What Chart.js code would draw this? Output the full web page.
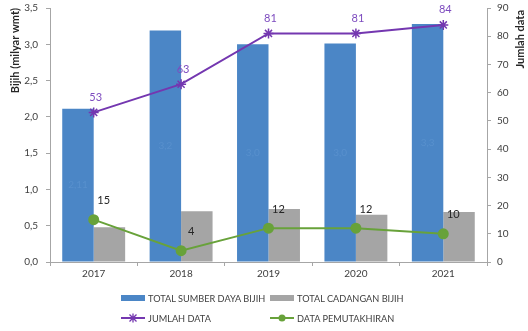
<!DOCTYPE html>
<html>
<head>
<meta charset="utf-8">
<script src="https://cdn.jsdelivr.net/npm/chart.js@4.4.1/dist/chart.umd.min.js"></script>
<style>
  html, body { margin: 0; padding: 0; background: #fff; }
  #wrap { position: relative; width: 528px; height: 331px; }
  #legend { position: absolute; left: 121px; top: 290px; display: grid;
    grid-template-columns: 149px auto; row-gap: 4px;
    font: 9.2px Lato, sans-serif; color: #404040; }
  .item { display: flex; align-items: center; height: 16px; white-space: nowrap; }
  .item svg { margin-right: 3px; }
</style>
</head>
<body>
<div id="wrap">
  <canvas id="chart" width="528" height="331"></canvas>
  <div id="legend"></div>
</div>
<script>
const categories = ['2017', '2018', '2019', '2020', '2021'];
const sumberDaya = [2.11, 3.19, 3.00, 3.01, 3.28];
const sumberDayaLabels = ['2,11', '3,2', '3,0', '3,0', '3,3'];
const cadangan = [0.48, 0.70, 0.73, 0.65, 0.69];
const jumlahData = [53, 63, 81, 81, 84];
const pemutakhiran = [15, 4, 12, 12, 10];
const leftTicks = [0, 0.5, 1, 1.5, 2, 2.5, 3, 3.5];
const rightTicks = [0, 10, 20, 30, 40, 50, 60, 70, 80, 90];

const BLUE = '#4b86c6';
const GREY = '#a5a5a5';
const PURPLE = '#7437b0';
const GREEN = '#68a23a';
const AXIS = '#a6a6a6';

// value labels + right axis title
const labelPlugin = {
    id: 'labels',
    afterDatasetsDraw(chart) {
        const ctx = chart.ctx;
        ctx.save();
        ctx.textAlign = 'center';
        ctx.textBaseline = 'middle';
        ctx.font = '10px Lato, sans-serif';

        chart.getDatasetMeta(0).data.forEach((bar, i) => {
            ctx.fillStyle = '#5890cd';
            ctx.fillText(sumberDayaLabels[i], bar.x, (bar.y + bar.base) / 2);
        });
        ctx.font = '11px Lato, sans-serif';
        chart.getDatasetMeta(2).data.forEach((pt, i) => {
            ctx.fillStyle = '#7d4bbf';
            ctx.fillText(jumlahData[i], pt.x + 2, pt.y - 15);
        });
        chart.getDatasetMeta(3).data.forEach((pt, i) => {
            ctx.fillStyle = '#262626';
            ctx.fillText(pemutakhiran[i], pt.x + 10, pt.y - 19);
        });

        const y1 = chart.scales.y1;
        ctx.translate(520, y1.top + 2);
        ctx.rotate(-Math.PI / 2);
        ctx.textAlign = 'right';
        ctx.font = 'bold 11px Lato, sans-serif';
        ctx.fillStyle = '#262626';
        ctx.fillText('Jumlah data', 0, 0);
        ctx.restore();
    }
};

const tickFmt = v => v.toFixed(1).replace('.', ',');

const fitVertical = w => s => {
    s.width = w;
    s.paddingTop = 0;
    s.paddingBottom = 0;
};

const chart = new Chart(document.getElementById('chart'), {
    data: {
        labels: categories,
        datasets: [
            { type: 'bar', label: 'TOTAL SUMBER DAYA BIJIH', data: sumberDaya,
              backgroundColor: BLUE, yAxisID: 'y', order: 2 },
            { type: 'bar', label: 'TOTAL CADANGAN BIJIH', data: cadangan,
              backgroundColor: GREY, yAxisID: 'y', order: 2 },
            { type: 'line', label: 'JUMLAH DATA', data: jumlahData, yAxisID: 'y1', order: 1,
              borderColor: PURPLE, borderWidth: 2, pointStyle: 'star', pointRadius: 5,
              pointBorderColor: PURPLE, pointBorderWidth: 1.5, tension: 0 },
            { type: 'line', label: 'DATA PEMUTAKHIRAN', data: pemutakhiran, yAxisID: 'y1', order: 1,
              borderColor: GREEN, borderWidth: 2, pointStyle: 'circle', pointRadius: 4.5,
              pointBackgroundColor: GREEN, pointBorderColor: GREEN, tension: 0 }
        ]
    },
    options: {
        responsive: false,
        animation: false,
        layout: { padding: { top: 8, bottom: 49, left: 0, right: 0 } },
        datasets: { bar: { categoryPercentage: 0.72, barPercentage: 1 } },
        plugins: { legend: { display: false }, tooltip: { enabled: false } },
        scales: {
            x: {
                offset: true,
                grid: { display: true, drawOnChartArea: false, tickLength: 4, color: AXIS },
                border: { color: AXIS },
                ticks: { color: '#404040', font: { family: 'Lato', size: 10 }, padding: 2 }
            },
            y: {
                position: 'left', min: 0, max: 3.5,
                afterBuildTicks: s => { s.ticks = leftTicks.map(v => ({ value: v })); },
                afterFit: fitVertical(50),
                grid: { display: true, drawOnChartArea: false, tickLength: 4, color: AXIS },
                border: { color: AXIS },
                ticks: { color: '#404040', font: { family: 'Lato', size: 10 }, padding: 8,
                         callback: v => tickFmt(v) },
                title: { display: true, text: 'Bijih (milyar wmt)', align: 'end', color: '#262626',
                         font: { family: 'Lato', size: 11, weight: 'bold' }, padding: { top: 9, bottom: 0 } }
            },
            y1: {
                position: 'right', min: 0, max: 90,
                afterBuildTicks: s => { s.ticks = rightTicks.map(v => ({ value: v })); },
                afterFit: fitVertical(41),
                grid: { display: true, drawOnChartArea: false, tickLength: 4, color: AXIS },
                border: { color: AXIS },
                ticks: { color: '#404040', font: { family: 'Lato', size: 10 }, padding: 6 }
            }
        }
    },
    plugins: [labelPlugin]
});

// HTML legend, two rows like the original
const legend = document.getElementById('legend');
chart.data.datasets.forEach(ds => {
    const item = document.createElement('div');
    item.className = 'item';
    let svg;
    if (ds.type === 'bar') {
        svg = `<svg width="24" height="8"><rect x="0" y="1" width="24" height="6" fill="${ds.backgroundColor}"/></svg>`;
    } else if (ds.pointStyle === 'star') {
        const c = ds.borderColor;
        svg = `<svg width="24" height="10"><line x1="0" y1="5" x2="24" y2="5" stroke="${c}" stroke-width="2"/>` +
              `<path d="M8.5 1.5L15.5 8.5M15.5 1.5L8.5 8.5M12 0.5V9.5" stroke="${c}" stroke-width="1.3"/></svg>`;
    } else {
        const c = ds.borderColor;
        svg = `<svg width="24" height="10"><line x1="0" y1="5" x2="24" y2="5" stroke="${c}" stroke-width="2"/>` +
              `<circle cx="12" cy="5" r="3.5" fill="${c}"/></svg>`;
    }
    item.innerHTML = svg + '<span>' + ds.label + '</span>';
    legend.appendChild(item);
});
</script>
</body>
</html>
